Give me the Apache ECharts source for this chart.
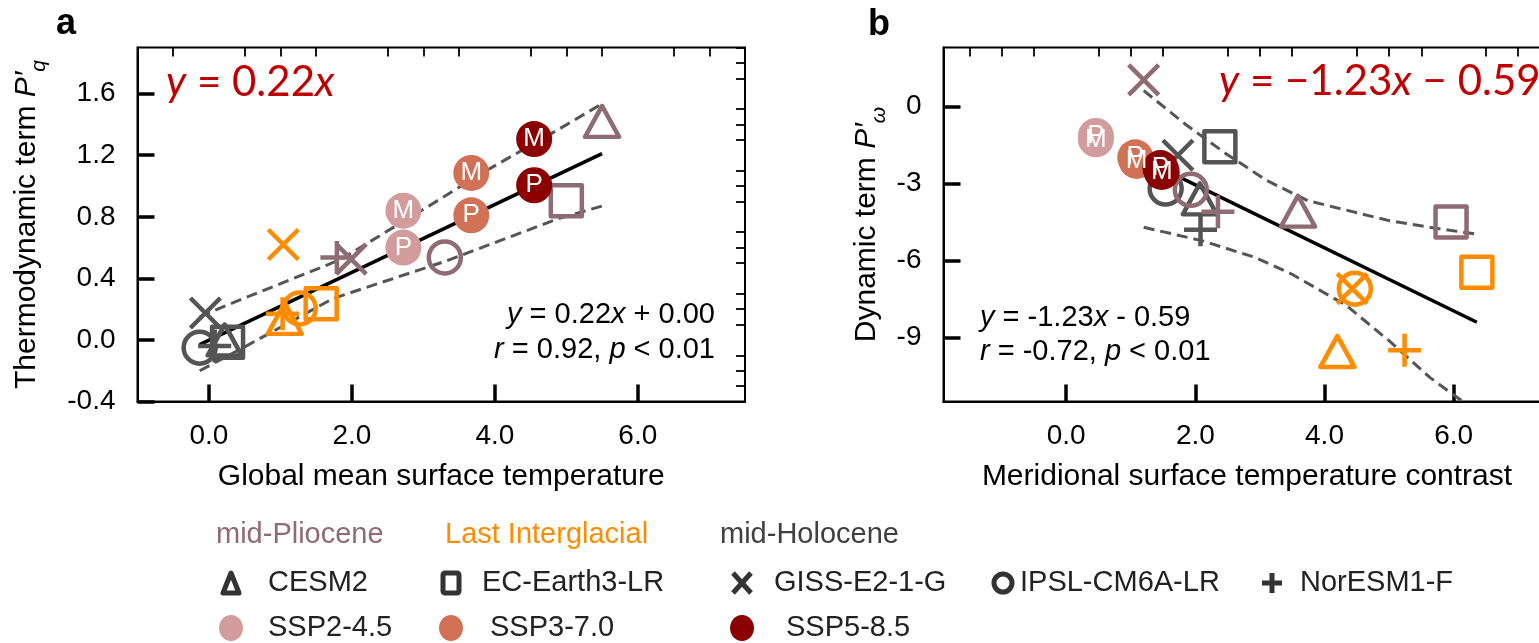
<!DOCTYPE html>
<html>
<head>
<meta charset="utf-8">
<script src="https://cdn.jsdelivr.net/npm/echarts@6/dist/echarts.min.js"></script>
<style>
  html, body { margin: 0; padding: 0; background: #fff; }
  #chart { width: 1539px; height: 643px; }
</style>
</head>
<body>
<div id="chart"></div>
<script>
// ---------- categories ----------
const models = ['CESM2', 'EC-Earth3-LR', 'GISS-E2-1-G', 'IPSL-CM6A-LR', 'NorESM1-F'];
const periods = ['mid-Pliocene', 'Last Interglacial', 'mid-Holocene'];
const scenarios = ['SSP2-4.5', 'SSP3-7.0', 'SSP5-8.5'];

// ---------- panel a: thermodynamic term vs global mean surface temperature ----------
// [x, y] per model, in the order of `models`
const aPliocene = [[5.50, 1.42], [5.00, 0.905], [1.99, 0.525], [3.30, 0.536], [1.79, 0.535]];
const aLIG      = [[1.06, 0.14], [1.57, 0.235], [1.04, 0.62], [1.27, 0.205], [1.03, 0.17]];
const aHolocene = [[0.22, 0.00], [0.26, -0.015], [-0.05, 0.175], [-0.13, -0.05], [0.08, -0.04]];
// future scenarios: [x, y, tag]
const aSSP245 = [[2.72, 0.84, 'M'], [2.72, 0.60, 'P']];
const aSSP370 = [[3.67, 1.085, 'M'], [3.67, 0.81, 'P']];
const aSSP585 = [[4.55, 1.305, 'M'], [4.55, 1.005, 'P']];
// fit y = 0.22x + 0.00 and its band
const aFit   = [[-0.13, -0.03], [5.50, 1.21]];
const aUpper = [[-0.13, 0.15], [0.22, 0.22], [1.83, 0.52], [3.04, 0.86], [3.88, 1.10], [4.90, 1.37], [5.50, 1.535]];
const aLower = [[-0.13, -0.20], [0.48, -0.05], [1.74, 0.27], [3.30, 0.51], [4.90, 0.79], [5.50, 0.87]];
const aXTicks = [0, 2, 4, 6];
const aYTicks = [-0.4, 0, 0.4, 0.8, 1.2, 1.6];

// ---------- panel b: dynamic term vs meridional temperature contrast ----------
const bPliocene = [[3.59, -4.08], [5.96, -4.50], [1.20, 1.04], [1.93, -3.25], [2.35, -4.10]];
const bLIG      = [[4.20, -9.55], [6.36, -6.46], [4.43, -7.10], [4.47, -7.10], [5.24, -9.50]];
const bHolocene = [[2.07, -3.60], [2.38, -1.57], [1.73, -1.90], [1.54, -3.20], [2.08, -4.80]];
const bSSP245 = [[0.46, -1.15, 'P'], [0.46, -1.28, 'M']];
const bSSP370 = [[1.07, -1.98, 'P'], [1.09, -2.12, 'M']];
const bSSP585 = [[1.46, -2.40, 'P'], [1.48, -2.55, 'M']];
// fit y = -1.23x - 0.59 and its band
const bFit   = [[1.20, -2.07], [6.36, -8.41]];
const bUpper = [[1.20, 0.62], [1.84, -0.68], [2.48, -1.85], [3.11, -2.89], [3.74, -3.67], [4.37, -4.06], [5.00, -4.45], [5.63, -4.71], [6.36, -4.98]];
const bLower = [[1.20, -4.71], [2.10, -5.23], [2.92, -5.88], [3.49, -6.53], [4.12, -7.44], [4.31, -7.70], [5.00, -9.13], [5.63, -10.56], [6.25, -11.70]];
const bXTicks = [0, 2, 4, 6];
const bYTicks = [-9, -6, -3, 0];

// ---------- styling ----------
const FONT = '"Liberation Sans", Arial, sans-serif';
const EQFONT = 'Lato, "Open Sans", sans-serif';
const periodColors = ['#8E6B75', '#FF8C00', '#545454'];
const sspColors = ['#D29C9C', '#D17155', '#8B0000'];
const markX = 'path://M0,0L20,20M20,0L0,20';
const markPlus = 'path://M10,0L10,20M0,10L20,10';
const modelSymbols = ['triangle', 'rect', markX, 'circle', markPlus];
const modelSizes = [[34, 31], [31, 31], [30, 30], [32, 32], [33, 33]];

function steps(from, to, step, skip) {
  const out = [];
  const n = Math.round((to - from) / step);
  for (let k = 0; k <= n; k++) {
    const v = +(from + k * step).toFixed(3);
    if (!skip.some(s => Math.abs(s - v) < 1e-6)) out.push(v);
  }
  return out;
}

function mainAxis(grid, min, max, ticks, fmt, margin, extra) {
  return Object.assign({
    type: 'value', gridIndex: grid, min: min, max: max,
    axisLine: { show: true, onZero: false, lineStyle: { color: '#000', width: 2 } },
    axisTick: { show: true, inside: true, length: 17, customValues: ticks, lineStyle: { color: '#000', width: 3.5 } },
    axisLabel: { show: true, customValues: ticks, formatter: fmt, margin: margin, color: '#000', fontSize: 28, fontFamily: FONT },
    splitLine: { show: false }
  }, extra || {});
}
function minorAxis(grid, min, max, ticks) {
  return {
    type: 'value', gridIndex: grid, min: min, max: max,
    axisLine: { show: false, onZero: false },
    axisTick: { show: true, inside: true, length: 9, customValues: ticks, lineStyle: { color: '#000', width: 1.8 } },
    axisLabel: { show: false },
    splitLine: { show: false }
  };
}

const nameStyle = {
  color: '#000', fontSize: 30, fontFamily: FONT,
  rich: {
    n: { fontSize: 30, fontFamily: FONT, color: '#000', lineHeight: 34, verticalAlign: 'top' },
    i: { fontSize: 30, fontFamily: FONT, fontStyle: 'italic', color: '#000', lineHeight: 34, verticalAlign: 'top' },
    s: { fontSize: 21, fontFamily: FONT, fontStyle: 'italic', color: '#000', padding: [17, 0, 0, 0], verticalAlign: 'bottom' }
  }
};
const xNameStyle = { color: '#000', fontSize: 30, fontFamily: FONT };

function paleo(points, color, xi, yi) {
  return {
    type: 'scatter', xAxisIndex: xi, yAxisIndex: yi, z: 3, silent: true,
    itemStyle: { color: 'transparent', borderColor: color, borderWidth: 4.5, borderJoin: 'round', opacity: 1 },
    data: points.map((p, k) => ({ value: p, symbol: modelSymbols[k], symbolSize: modelSizes[k] }))
  };
}
function ssp(points, color, xi, yi) {
  return {
    type: 'scatter', xAxisIndex: xi, yAxisIndex: yi, z: 4, silent: true,
    symbol: 'circle', symbolSize: 36,
    itemStyle: { color: color, opacity: 1 },
    label: { show: true, position: 'inside', formatter: '{b}', color: '#fff', fontSize: 26, fontFamily: FONT },
    data: points.map(p => ({ value: [p[0], p[1]], name: p[2] }))
  };
}
function line(points, xi, yi, dashed) {
  return {
    type: 'line', xAxisIndex: xi, yAxisIndex: yi, z: 2, silent: true, clip: true,
    symbol: 'none', data: points,
    lineStyle: dashed ? { color: '#555', width: 3, type: [11, 6] } : { color: '#000', width: 3.5 }
  };
}

// ---------- legend drawn as graphics ----------
const legendRows = [535, 583, 628];
const colIcon = [231, 451, 742, 1003, 1272];
const colText = [268, 482, 774, 1020, 1300];
const titleLeft = [216, 445, 720];
const sspText = [268, 490, 786];
const ink = '#333';
const LFONT = '29px ' + FONT;

function iconFor(k, cx, cy) {
  const st = { fill: 'none', stroke: ink, lineWidth: 5, lineJoin: 'round' };
  if (k === 0) return [{ type: 'polygon', shape: { points: [[cx, cy - 10], [cx - 8, cy + 10], [cx + 8, cy + 10]] }, style: st }];
  if (k === 1) return [{ type: 'rect', shape: { x: cx - 8, y: cy - 10, width: 16, height: 20, r: 2 }, style: st }];
  if (k === 2) return [
    { type: 'polyline', shape: { points: [[cx - 9, cy - 10], [cx + 9, cy + 10]] }, style: st },
    { type: 'polyline', shape: { points: [[cx + 9, cy - 10], [cx - 9, cy + 10]] }, style: st }
  ];
  if (k === 3) return [{ type: 'circle', shape: { cx: cx, cy: cy, r: 9 }, style: st }];
  return [
    { type: 'polyline', shape: { points: [[cx, cy - 10], [cx, cy + 10]] }, style: st },
    { type: 'polyline', shape: { points: [[cx - 10, cy], [cx + 10, cy]] }, style: st }
  ];
}
const legend = [];
const titleColors = ['#8E6B75', '#FF8C00', '#404040'];
periods.forEach((p, k) => legend.push({
  type: 'text', x: titleLeft[k], y: legendRows[0],
  style: { text: p, fill: titleColors[k], font: LFONT, verticalAlign: 'middle' }
}));
models.forEach((m, k) => {
  const cy = legendRows[1];
  iconFor(k, colIcon[k], cy).forEach(el => legend.push(el));
  legend.push({ type: 'text', x: colText[k], y: cy, style: { text: m, fill: '#222', font: LFONT, verticalAlign: 'middle' } });
});
scenarios.forEach((s, k) => {
  legend.push({ type: 'ellipse', shape: { cx: colIcon[k], cy: legendRows[2], rx: 12, ry: 13 }, style: { fill: sspColors[k] } });
  legend.push({ type: 'text', x: sspText[k], y: legendRows[2], style: { text: s, fill: '#222', font: LFONT, verticalAlign: 'middle' } });
});

// ---------- equations and panel letters ----------
const eqRich = (size, color, family) => ({
  n: { fontSize: size, fontFamily: family, fill: color },
  i: { fontSize: size, fontFamily: family, fill: color, fontStyle: 'italic' }
});
const annotations = [
  { type: 'text', x: 66, y: 24, style: { text: 'a', font: 'bold 36px ' + FONT, fill: '#000', align: 'center', verticalAlign: 'middle' } },
  { type: 'text', x: 879, y: 25, style: { text: 'b', font: 'bold 36px ' + FONT, fill: '#000', align: 'center', verticalAlign: 'middle' } },
  { type: 'text', x: 166, y: 82, style: { text: '{i|y}{n| = 0.22}{i|x}', rich: eqRich(42, '#C00000', EQFONT), verticalAlign: 'middle' } },
  { type: 'text', x: 1219, y: 81, style: { text: '{i|y}{n| = \u22121.23}{i|x}{n| \u2212 0.59}', rich: eqRich(42, '#C00000', EQFONT), verticalAlign: 'middle' } },
  { type: 'text', x: 715, y: 315, style: { text: '{i|y}{n| = 0.22}{i|x}{n| + 0.00}', rich: eqRich(29, '#000', FONT), align: 'right', verticalAlign: 'middle' } },
  { type: 'text', x: 715, y: 350, style: { text: '{i|r}{n| = 0.92, }{i|p}{n| < 0.01}', rich: eqRich(29, '#000', FONT), align: 'right', verticalAlign: 'middle' } },
  { type: 'text', x: 980, y: 318, style: { text: '{i|y}{n| = -1.23}{i|x}{n| - 0.59}', rich: eqRich(29, '#000', FONT), verticalAlign: 'middle' } },
  { type: 'text', x: 980, y: 352, style: { text: '{i|r}{n| = -0.72, }{i|p}{n| < 0.01}', rich: eqRich(29, '#000', FONT), verticalAlign: 'middle' } }
];

const option = {
  animation: false,
  backgroundColor: '#fff',
  grid: [
    { left: 137.5, top: 47.5, width: 607.5, height: 354, show: true, borderColor: '#000', borderWidth: 2, outerBoundsMode: 'none' },
    { left: 943.5, top: 47.5, width: 607, height: 354, show: true, borderColor: '#000', borderWidth: 2, outerBoundsMode: 'none' }
  ],
  xAxis: [
    mainAxis(0, -1, 7.5, aXTicks, v => v.toFixed(1), 21, {
      name: 'Global mean surface temperature', nameLocation: 'middle', nameGap: 60, nameTextStyle: xNameStyle
    }),
    minorAxis(0, -1, 7.5, steps(-1, 7.5, 0.5, aXTicks)),
    mainAxis(1, -1.9, 7.5, bXTicks, v => v.toFixed(1), 21, {
      name: 'Meridional surface temperature contrast', nameLocation: 'middle', nameGap: 60, nameTextStyle: xNameStyle
    }),
    minorAxis(1, -1.9, 7.5, steps(-1.5, 7.5, 0.5, bXTicks))
  ],
  yAxis: [
    mainAxis(0, -0.4, 1.9, aYTicks, v => v.toFixed(1), 22, {
      name: '{n|Thermodynamic term }{i|P\u2032}{s|q}', nameLocation: 'middle', nameGap: 88, nameTextStyle: nameStyle
    }),
    minorAxis(0, -0.4, 1.9, steps(-0.3, 1.9, 0.1, aYTicks)),
    mainAxis(1, -11.5, 2.3, bYTicks, v => String(v), 22, {
      name: '{n|Dynamic term }{i|P\u2032}{s|\u03c9}', nameLocation: 'middle', nameGap: 54, nameTextStyle: nameStyle
    }),
    minorAxis(1, -11.5, 2.3, steps(-11, 2, 1, bYTicks))
  ],
  series: [
    line(aUpper, 0, 0, true), line(aLower, 0, 0, true), line(aFit, 0, 0, false),
    paleo(aHolocene, periodColors[2], 0, 0), paleo(aLIG, periodColors[1], 0, 0), paleo(aPliocene, periodColors[0], 0, 0),
    ssp(aSSP245, sspColors[0], 0, 0), ssp(aSSP370, sspColors[1], 0, 0), ssp(aSSP585, sspColors[2], 0, 0),

    line(bUpper, 2, 2, true), line(bLower, 2, 2, true), line(bFit, 2, 2, false),
    paleo(bHolocene, periodColors[2], 2, 2), paleo(bLIG, periodColors[1], 2, 2), paleo(bPliocene, periodColors[0], 2, 2),
    ssp(bSSP245, sspColors[0], 2, 2), ssp(bSSP370, sspColors[1], 2, 2), ssp(bSSP585, sspColors[2], 2, 2)
  ],
  graphic: annotations.concat(legend)
};

const chart = echarts.init(document.getElementById('chart'), null, { renderer: 'canvas' });
chart.setOption(option);
</script>
</body>
</html>
